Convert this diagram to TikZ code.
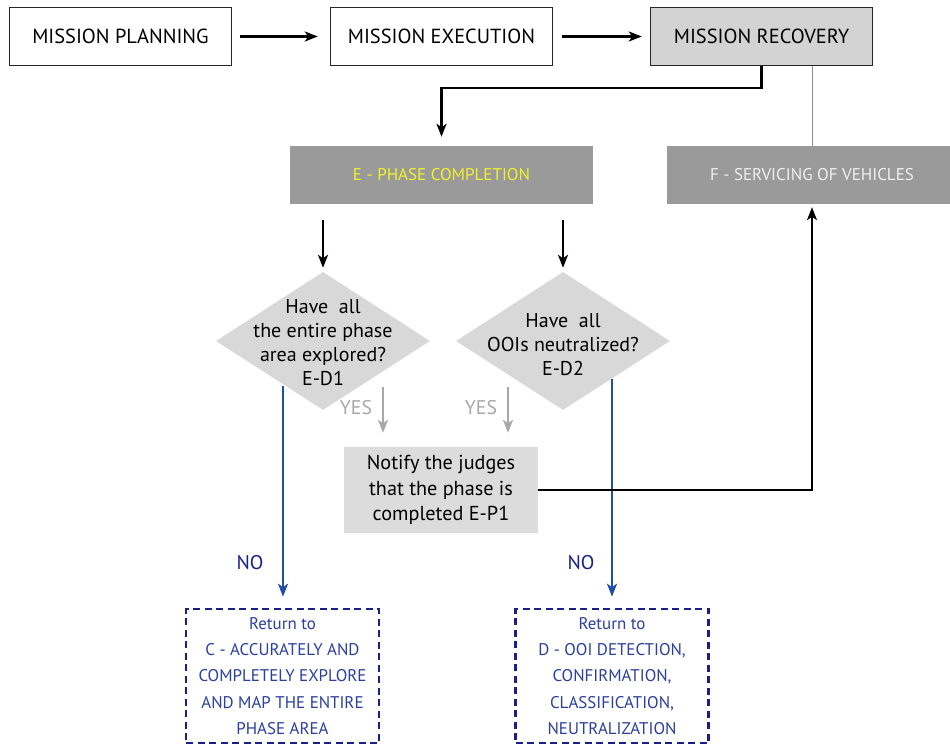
\documentclass[tikz,border=0pt]{standalone}
\usepackage{fontspec}
\setmainfont{PT Sans}
\usetikzlibrary{arrows.meta,shapes.geometric}

\definecolor{boxgray}{HTML}{D3D3D3}
\definecolor{phasegray}{HTML}{9A9A9A}
\definecolor{decgray}{HTML}{D8D8D8}
\definecolor{notegray}{HTML}{DCDCDC}
\definecolor{yesgray}{HTML}{A8A8A8}
\definecolor{noblue}{HTML}{1F4FA8}
\definecolor{navy}{HTML}{1B1F8A}
\definecolor{retblue}{HTML}{2B3F9E}
\definecolor{phaseyellow}{HTML}{F2F22A}

\tikzset{
  topbox/.style={draw=black!85, line width=1.5pt, minimum width=222pt, minimum height=58pt,
    inner sep=0pt, font=\fontsize{20.4}{22}\selectfont},
  phasebox/.style={fill=phasegray, minimum height=58pt, inner sep=0pt,
    font=\fontsize{17}{19}\selectfont},
  decision/.style={diamond, fill=decgray, minimum width=214pt, minimum height=138pt, inner sep=0pt},
  dectext/.style={align=center, font=\fontsize{20}{24}\selectfont},
  notebox/.style={fill=notegray, minimum width=194pt, minimum height=86pt, inner sep=0pt,
    align=center, font=\fontsize{20.2}{25.5}\selectfont},
  retbox/.style={draw=navy, line width=2.6pt, dash pattern=on 7pt off 4.5pt, minimum width=193pt,
    minimum height=134pt, inner sep=0pt, align=center, text=retblue,
    font=\fontsize{16.9}{26.2}\selectfont},
  flow/.style={line width=2.3pt, -{Stealth[length=13pt,width=10pt,inset=3.5pt]}},
  yesflow/.style={yesgray, line width=2.3pt, -{Stealth[length=13pt,width=10pt,inset=3.5pt]}},
  noflow/.style={noblue, line width=2.3pt, -{Stealth[length=13pt,width=10pt,inset=3.5pt]}},
  lbl/.style={inner sep=0pt, font=\fontsize{19.8}{21}\selectfont}
}

\begin{document}
\begin{tikzpicture}[x=1pt,y=-1pt]
\useasboundingbox[fill=white] (0,0) rectangle (950,749);

% top row
\node[topbox] (plan) at (120.5,36.5) {MISSION PLANNING};
\node[topbox] (exec) at (441.5,36.5) {MISSION EXECUTION};
\node[topbox, fill=boxgray] (rec) at (761.5,36.5) {MISSION RECOVERY};

% phases
\node[phasebox, minimum width=303pt, text=phaseyellow] (e) at (441.5,175) {E - PHASE COMPLETION};
\node[phasebox, minimum width=290pt, text=white!94!black] (f) at (812,175) {F - SERVICING OF VEHICLES};

% decisions
\node[decision] (d1) at (323,341) {};
\node[dectext] (d1t) at (323,343) {Have\ \ all\\the entire phase\\area explored?\\E-D1};
\node[decision] (d2) at (563,341) {};
\node[dectext] (d2t) at (563,345) {Have\ \ all\\OOIs neutralized?\\E-D2};

% notification
\node[notebox] (n) at (441,490) {Notify the judges\\that the phase is\\completed E-P1};

% return targets
\node[retbox] (r1) at (282.5,676) {Return to\\C - ACCURATELY AND\\COMPLETELY EXPLORE\\AND MAP THE ENTIRE\\PHASE AREA};
\node[retbox] (r2) at (612,676) {Return to\\D - OOI DETECTION,\\CONFIRMATION,\\CLASSIFICATION,\\NEUTRALIZATION};

% top row flow
\draw[flow, shorten <=8pt, shorten >=12pt] (plan.east) -- (exec.west);
\draw[flow, shorten <=9pt, shorten >=8pt] (exec.east) -- (rec.west);
\draw[flow, shorten >=9pt] (rec.south) -- ++(0,22) -| (e.north);
\draw[black!45, line width=1pt] (rec.south -| f.north) -- (f.north);

% phase E to decisions
\draw[flow, shorten <=16pt, shorten >=4pt] (e.south -| d1.north) -- (d1.north);
\draw[flow, shorten <=16pt, shorten >=4pt] (e.south -| d2.north) -- (d2.north);

% YES branches
\coordinate (y1) at (383,387);
\coordinate (y2) at (508,387);
\draw[yesflow, shorten >=14pt] (y1) -- (y1 |- n.north);
\draw[yesflow, shorten >=14pt] (y2) -- (y2 |- n.north);
\node[lbl, text=yesgray] (yes1) at (356,408) {YES};
\node[lbl, text=yesgray] (yes2) at (481,408) {YES};

% NO branches
\coordinate (no1) at (283,386);
\coordinate (no2) at (612,379);
\draw[noflow, shorten >=11pt] (no1) -- (no1 |- r1.north);
\draw[noflow, shorten >=11pt] (no2) -- (no2 |- r2.north);
\node[lbl, text=navy] (nol1) at (250,563) {NO};
\node[lbl, text=navy] (nol2) at (581,563) {NO};

% notification to servicing
\draw[flow, line width=1.8pt, shorten >=3pt] (n.east) -| (f.south);
\end{tikzpicture}
\end{document}
